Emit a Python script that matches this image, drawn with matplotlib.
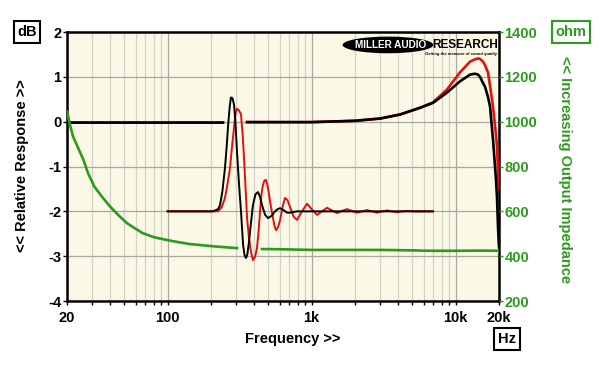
import numpy as np
import matplotlib.pyplot as plt
from matplotlib.patches import Ellipse
from matplotlib.ticker import FixedLocator, NullFormatter

plt.rcParams['font.family'] = ['Liberation Sans', 'DejaVu Sans']
plt.rcParams['font.weight'] = 'bold'

# frequency response, dB (nan = gap where the step plot crosses)
resp_freq = [20, 100, 200, 242, 300, 356, 1000, 2000, 2984, 4106, 5656, 6960, 8710,
             10720, 12580, 13630, 14290, 14760, 15490, 15990, 16770, 17320, 18170,
             19060, 19370, 19680, 19840, 20000]
resp_black = [-0.02, -0.02, -0.02, -0.02, np.nan, -0.01, -0.01, 0.02, 0.07, 0.16, 0.31, 0.42, 0.65,
              0.90, 1.05, 1.07, 1.05, 1.00, 0.86, 0.78, 0.55, 0.34, -0.40,
              -1.30, -1.70, -2.35, -2.60, -2.80]
resp_red = [-0.02, -0.02, -0.02, -0.02, np.nan, -0.01, -0.01, 0.02, 0.07, 0.16, 0.31, 0.43, 0.72,
            1.10, 1.34, 1.39, 1.41, 1.40, 1.34, 1.26, 1.10, 0.80, 0.34,
            -0.30, -0.56, -1.10, -1.48, np.nan]

# step / impulse traces drawn on the same axes
step_freq_black = [100, 206, 224, 231, 240, 250, 257, 263, 270, 275, 282, 289, 296, 303, 313,
                   323, 334, 342, 350, 358, 367, 379, 391, 407, 424, 438, 452, 475, 498,
                   527, 557, 580, 603, 637, 674, 707, 791, 6960]
step_black = [-2.0, -2.0, -1.95, -1.86, -1.55, -1.03, -0.55, -0.07, 0.35, 0.54, 0.52, 0.38, -0.05, -0.67, -1.40,
              -2.0, -2.75, -2.98, -3.04, -2.95, -2.68, -2.25, -1.86, -1.62, -1.57, -1.68, -1.86, -2.08, -2.15,
              -2.10, -2.0, -1.95, -1.93, -1.97, -2.03, -2.03, -2.0, -2.0]

step_freq_red = [100, 224, 238, 250, 260, 271, 280, 289, 296, 303, 313, 323, 331, 339, 347, 356,
                 367, 379, 391, 404, 417, 428, 438, 448, 459, 470, 482, 494, 506, 522, 539,
                 552, 566, 585, 603, 628, 653, 680, 707, 750, 791, 857, 928, 1000, 1089,
                 1180, 1278, 1385, 1500, 1620, 1760, 1900, 2065, 2240, 2424, 2620, 2844,
                 3090, 3337, 3620, 3915, 4250, 4594, 5300, 6960]
step_red = [-2.0, -2.0, -1.90, -1.70, -1.40, -1.03, -0.55, -0.13, 0.18, 0.29, 0.25, 0.16, -0.25, -0.80, -1.45, -2.15,
            -2.60, -2.90, -3.09, -3.02, -2.82, -2.45, -2.0, -1.62, -1.41, -1.31, -1.30, -1.43, -1.63, -1.90, -2.15,
            -2.33, -2.42, -2.35, -2.20, -1.90, -1.70, -1.75, -1.90, -2.12, -2.19, -2.0, -1.83, -1.95, -2.08,
            -2.0, -1.92, -1.98, -2.04, -1.99, -1.95, -1.99, -2.03, -2.0, -1.97, -2.0, -2.03,
            -2.0, -1.98, -2.0, -2.02, -2.0, -1.99, -2.0, -2.0]

# output impedance, ohm (right axis)
imp_freq = [20, 21, 22, 24, 26, 28, 31, 35, 40, 46, 52, 60, 67, 80, 99, 120, 143, 200, 250, 303,
            370, 452, 600, 1000, 2000, 3000, 5000, 6600, 10000, 15000, 20000]
imp_ohm = [1045, 985, 935, 880, 830, 770, 710, 665, 620, 580, 548, 522, 503, 485, 472, 462, 454, 445, 440, 436,
           np.nan, 432, 431, 428, 428, 428, 426, 424, 424, 425, 424]

x_ticks = [20, 100, 1000, 10000, 20000]
x_labels = ['20', '100', '1k', '10k', '20k']
db_ticks = [2, 1, 0, -1, -2, -3, -4]
ohm_ticks = [1400, 1200, 1000, 800, 600, 400, 200]

green = '#2c9a1c'
red = '#e01010'
fs = 10.5

fig = plt.figure(figsize=(6, 3.68), dpi=100)
ax = fig.add_axes([0.1117, 0.182, 0.72, 0.731])
ax.set_facecolor('#fbf9e5')
ax.set_xscale('log')
ax.set_xlim(20, 20000)
ax.set_ylim(-4, 2)

minor = [m * d for d in [10, 100, 1000] for m in range(2, 10) if 20 <= m * d <= 20000]
for f in minor:
    if f not in (100, 1000, 10000):
        ax.axvline(f, color='#d2d2cc', lw=0.9, zorder=0)
for f in [100, 1000, 10000]:
    ax.axvline(f, color='#a8a8a4', lw=0.9, zorder=0)
for d in db_ticks:
    ax.axhline(d, color='#a8a8a4', lw=0.9, zorder=0)

ax.xaxis.set_major_locator(FixedLocator(x_ticks))
ax.xaxis.set_minor_locator(FixedLocator(minor))
ax.xaxis.set_minor_formatter(NullFormatter())
ax.set_xticks(x_ticks)
ax.set_xticklabels(x_labels, fontsize=fs, fontweight='bold')
ax.set_yticks(db_ticks)
ax.set_yticklabels([str(d) for d in db_ticks], fontsize=fs, fontweight='bold')
ax.tick_params(axis='both', which='both', length=3, width=1, direction='out', pad=1)
ax.tick_params(axis='x', which='both', length=3, pad=4)
for s in ax.spines.values():
    s.set_linewidth(1.8)

ax.plot(resp_freq, resp_red, color=red, lw=1.9, zorder=3)
ax.plot(resp_freq, resp_black, color='black', lw=1.9, zorder=4)
ax.plot(step_freq_red, step_red, color=red, lw=1.4, zorder=3)
ax.plot(step_freq_black, step_black, color='black', lw=1.4, zorder=4)

ax2 = ax.twinx()
ax2.set_ylim(200, 1400)
ax2.set_yticks(ohm_ticks)
ax2.set_yticklabels([str(o) for o in ohm_ticks], fontsize=fs, fontweight='bold', color=green)
ax2.tick_params(axis='y', length=3, width=1, color=green, pad=1)
for s in ax2.spines.values():
    s.set_visible(False)
ax2.plot(imp_freq, imp_ohm, color=green, lw=1.9, zorder=2)

# logo
ax.add_patch(Ellipse((0.743, 0.952), 0.21, 0.062, transform=ax.transAxes,
                     facecolor='black', edgecolor='none', zorder=6))
ax.text(0.748, 0.952, 'MILLER AUDIO', transform=ax.transAxes, color='white',
        fontsize=7.2, fontweight='heavy', ha='center', va='center', zorder=7)
ax.text(0.846, 0.952, 'RESEARCH', transform=ax.transAxes, color='black',
        fontsize=8.5, fontweight='heavy', ha='left', va='center', zorder=7)
ax.text(0.995, 0.918, 'Getting the measure of sound quality', transform=ax.transAxes,
        color='black', fontsize=3, fontweight='bold', style='italic', ha='right',
        va='center', zorder=7)

fig.text(0.487, 0.080, 'Frequency >>', fontsize=fs, fontweight='bold', ha='center', va='center')
fig.text(0.037, 0.55, '<< Relative Response >>', fontsize=fs, fontweight='bold',
         rotation=90, ha='center', va='center')
fig.text(0.942, 0.54, '<< Increasing Output Impedance', fontsize=fs, fontweight='bold',
         color=green, rotation=-90, ha='center', va='center')

box = dict(boxstyle='square,pad=0.25', facecolor='white', edgecolor='black', lw=1.5)
fig.text(0.045, 0.913, 'dB', fontsize=fs, fontweight='bold', ha='center', va='center', bbox=box)
fig.text(0.845, 0.079, 'Hz', fontsize=fs, fontweight='bold', ha='center', va='center', bbox=box)
gbox = dict(boxstyle='square,pad=0.25', facecolor='white', edgecolor=green, lw=1.5)
fig.text(0.952, 0.913, 'ohm', fontsize=fs, fontweight='bold', color=green,
         ha='center', va='center', bbox=gbox)

fig.savefig('out.png', dpi=100)
